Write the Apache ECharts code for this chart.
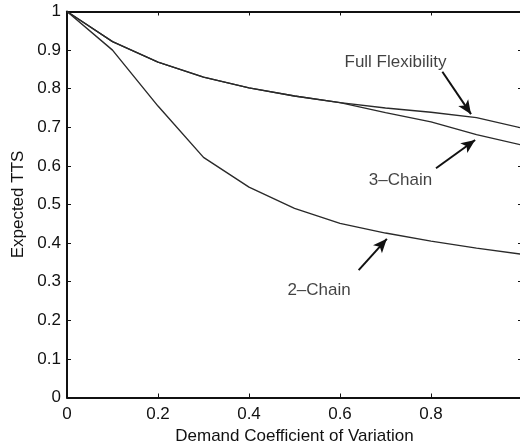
<!DOCTYPE html>
<html>
<head>
<meta charset="utf-8">
<script src="https://cdn.jsdelivr.net/npm/echarts@6/dist/echarts.min.js"></script>
<style>
  html, body { margin: 0; padding: 0; background: #fff; }
  #chart { width: 520px; height: 444px; }
</style>
</head>
<body>
<div id="chart"></div>
<script>
// demand coefficient of variation
var cv = [0, 0.1, 0.2, 0.3, 0.4, 0.5, 0.6, 0.7, 0.8, 0.9, 1.0];
var fullFlex = [1, 0.922, 0.869, 0.830, 0.802, 0.781, 0.764, 0.750, 0.739, 0.725, 0.698];
var chain3 = [1, 0.922, 0.869, 0.830, 0.802, 0.781, 0.764, 0.738, 0.714, 0.681, 0.654];
var chain2 = [1, 0.900, 0.755, 0.622, 0.545, 0.490, 0.451, 0.426, 0.405, 0.387, 0.371];

// annotation text + arrows (tail -> head), in data units
var labels = [
  { name: "Full Flexibility", at: [0.722, 0.869] },
  { name: "3\u2013Chain", at: [0.733, 0.563] },
  { name: "2\u2013Chain", at: [0.554, 0.278] },
];
var arrows = [
  [[0.825, 0.844], [0.888, 0.734]],
  [[0.811, 0.594], [0.897, 0.667]],
  [[0.641, 0.330], [0.703, 0.411]],
];

var pair = function (ys) {
  return cv.map(function (x, i) { return [x, ys[i]]; });
};

var chart = echarts.init(document.getElementById("chart"));
var font = "Liberation Sans";
var lineStyle = { color: "#2a2a2a", width: 1.4 };
var frame = { show: true, onZero: false, lineStyle: { color: "#111", width: 2 } };
var ticks = { show: true, inside: true, length: 4, lineStyle: { color: "#111" } };

var option = {
  animation: false,
  textStyle: { fontFamily: font, color: "#111" },
  grid: { left: 67, top: 11.5, width: 455, height: 386, outerBoundsMode: "none" },
  xAxis: [
    {
      type: "value", min: 0, max: 1, interval: 0.2,
      name: "Demand Coefficient of Variation",
      nameLocation: "middle", nameGap: 25,
      nameTextStyle: { fontSize: 17, color: "#111", fontFamily: font },
      axisLine: frame,
      axisTick: ticks,
      axisLabel: {
        fontSize: 17, color: "#111", margin: 8,
        formatter: function (v) { return v >= 1 ? "" : String(+v.toFixed(1)); },
      },
      splitLine: { show: false },
    },
    {
      type: "value", min: 0, max: 1, interval: 0.2, position: "top",
      axisLine: frame,
      axisTick: ticks,
      axisLabel: { show: false },
      splitLine: { show: false },
    },
  ],
  yAxis: [
    {
      type: "value", min: 0, max: 1, interval: 0.1,
      name: "Expected TTS",
      nameLocation: "middle", nameGap: 36,
      nameTextStyle: { fontSize: 17, color: "#111", fontFamily: font },
      axisLine: frame,
      axisTick: ticks,
      axisLabel: {
        fontSize: 17, color: "#111", margin: 6,
        formatter: function (v) { return String(+v.toFixed(1)); },
      },
      splitLine: { show: false },
    },
    {
      type: "value", min: 0, max: 1, interval: 0.1, position: "right",
      axisLine: frame,
      axisTick: ticks,
      axisLabel: { show: false },
      splitLine: { show: false },
    },
  ],
  series: [
    {
      name: "Full Flexibility", type: "line", data: pair(fullFlex),
      showSymbol: false, lineStyle: lineStyle, itemStyle: { color: "#2a2a2a" },
    },
    {
      name: "3-Chain", type: "line", data: pair(chain3),
      showSymbol: false, lineStyle: lineStyle, itemStyle: { color: "#2a2a2a" },
    },
    {
      name: "2-Chain", type: "line", data: pair(chain2),
      showSymbol: false, lineStyle: lineStyle, itemStyle: { color: "#2a2a2a" },
      markLine: {
        silent: true,
        symbol: ["none", "arrow"],
        symbolSize: [9, 14],
        label: { show: false },
        lineStyle: { color: "#111", width: 2, type: "solid" },
        data: arrows.map(function (a) {
          return [{ coord: a[0] }, { coord: a[1] }];
        }),
      },
    },
    {
      type: "scatter", symbolSize: 0, silent: true,
      data: labels.map(function (l) { return { name: l.name, value: l.at }; }),
      label: {
        show: true, position: "inside",
        formatter: "{b}", fontSize: 17, color: "#111", fontFamily: font,
      },
    },
  ],
};

chart.setOption(option);
</script>
</body>
</html>
